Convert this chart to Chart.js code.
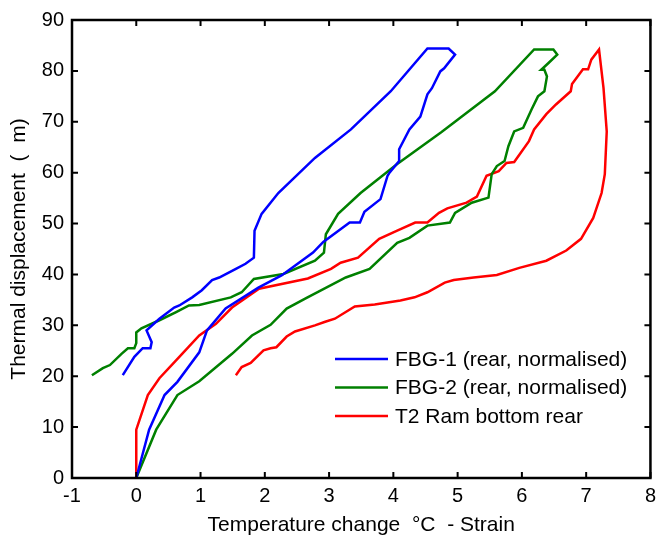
<!DOCTYPE html>
<html>
<head>
<meta charset="utf-8">
<script src="https://cdn.jsdelivr.net/npm/chart.js@4/dist/chart.umd.min.js"></script>
<style>
  body { margin: 0; background: #fff; }
  #wrap { width: 662px; height: 539px; position: relative; }
</style>
</head>
<body>
<div id="wrap"><canvas id="chart"></canvas></div>
<script>
let xTicks = [-1, 0, 1, 2, 3, 4, 5, 6, 7, 8];
let yTicks = [0, 10, 20, 30, 40, 50, 60, 70, 80, 90];

let fbg1Label = "FBG-1 (rear, normalised)";
let fbg1X = [0, 0.2, 0.44, 0.64, 0.98, 1.1, 1.39, 1.9, 2.26, 2.75, 2.91, 3.32, 3.48, 3.55, 3.8, 3.91, 3.94, 4.09, 4.09, 4.25, 4.42, 4.53, 4.6, 4.73, 4.79, 4.96, 4.86, 4.53, 3.96, 3.34, 2.78, 2.21, 1.95, 1.84, 1.83, 1.7, 1.55, 1.29, 1.18, 1.02, 0.87, 0.67, 0.59, 0.36, 0.16, 0.24, 0.22, 0.1, -0.03, -0.21];
let fbg1Y = [0, 9.5, 16.3, 18.9, 24.7, 29, 33.3, 37.4, 39.8, 44.3, 46.4, 50.2, 50.2, 52.3, 54.8, 59.4, 60, 62.3, 64.6, 68.5, 71, 75.4, 76.6, 79.9, 80.5, 83.2, 84.4, 84.4, 76, 68.5, 62.9, 56, 51.9, 48.6, 43.3, 42.1, 41.1, 39.4, 38.9, 36.9, 35.5, 33.9, 33.5, 31.3, 29, 26.7, 25.5, 25.5, 23.8, 20.2];

let fbg2Label = "FBG-2 (rear, normalised)";
let fbg2X = [0, 0.31, 0.64, 0.98, 1.49, 1.8, 2.09, 2.34, 2.65, 3.26, 3.63, 4.06, 4.25, 4.53, 4.88, 4.96, 5.22, 5.48, 5.53, 5.61, 5.73, 5.79, 5.88, 6.02, 6.15, 6.25, 6.35, 6.39, 6.35, 6.3, 6.41, 6.55, 6.49, 6.19, 5.58, 4.75, 4.06, 3.49, 3.14, 2.95, 2.92, 2.78, 2.29, 1.83, 1.64, 1.47, 0.98, 0.82, 0.62, 0.36, 0.08, 0, 0, -0.03, -0.13, -0.23, -0.41, -0.52, -0.69];
let fbg2Y = [0, 9.5, 16.3, 19, 24.4, 28, 30.1, 33.3, 35.4, 39.4, 41.1, 46.2, 47.2, 49.6, 50.2, 52.1, 54.1, 55.1, 59.7, 61.3, 62.3, 65.2, 68.1, 68.8, 72.4, 75, 76, 78.9, 80.2, 80.2, 81.5, 83.2, 84.2, 84.2, 76, 68, 61.7, 56, 51.9, 47.9, 44.3, 42.7, 40.1, 39.1, 36.5, 35.5, 34, 33.9, 32.6, 31, 29.4, 28.6, 26.5, 25.5, 25.5, 24.4, 22.2, 21.6, 20.2];

let t2Label = "T2 Ram bottom rear";
let t2X = [0, 0, 0.18, 0.36, 0.67, 0.98, 1.24, 1.49, 1.91, 2.67, 3.03, 3.18, 3.45, 3.78, 4.06, 4.34, 4.53, 4.71, 4.84, 5.14, 5.3, 5.45, 5.64, 5.76, 5.88, 6.11, 6.19, 6.38, 6.53, 6.76, 6.78, 6.95, 7.03, 7.08, 7.2, 7.27, 7.32, 7.29, 7.24, 7.11, 6.92, 6.69, 6.38, 5.96, 5.61, 5.25, 4.94, 4.8, 4.53, 4.33, 4.11, 3.71, 3.4, 3.09, 2.94, 2.78, 2.47, 2.34, 2.18, 2.09, 1.98, 1.78, 1.64, 1.55];
let t2Y = [0, 9.5, 16.3, 19.6, 23.8, 28, 30.3, 33.5, 37.2, 39.2, 41.1, 42.3, 43.3, 47, 48.6, 50.2, 50.2, 52.1, 53, 54.1, 55.3, 59.4, 60.3, 61.9, 62.1, 66.2, 68.5, 71.5, 73.4, 76, 77.4, 80.3, 80.3, 82.2, 84.2, 76.6, 68.1, 59.7, 56, 51.1, 47, 44.7, 42.7, 41.3, 39.9, 39.4, 38.9, 38.4, 36.5, 35.5, 34.9, 34.1, 33.7, 31.3, 30.7, 30, 28.8, 27.8, 25.7, 25.5, 25.1, 22.6, 21.8, 20.2];

function toPoints(xs, ys) {
    let pts = [];
    for (let i = 0; i < xs.length; i++) {
        pts.push({ x: xs[i], y: ys[i] });
    }
    return pts;
}

function makeSeries(label, xs, ys, color) {
    return {
        label: label,
        data: toPoints(xs, ys),
        showLine: true,
        borderColor: color,
        backgroundColor: color,
        borderWidth: 2.5,
        pointRadius: 0,
        tension: 0
    };
}

// box round the plot with inward ticks on all four sides, matlab style
let boxPlugin = {
    id: "box",
    afterDraw(chart) {
        let ctx = chart.ctx;
        let a = chart.chartArea;
        let xs = chart.scales.x;
        let ys = chart.scales.y;
        ctx.save();
        ctx.strokeStyle = "#000";
        ctx.lineWidth = 2;
        ctx.beginPath();
        xs.ticks.forEach(t => {
            let px = xs.getPixelForValue(t.value);
            ctx.moveTo(px, a.bottom);
            ctx.lineTo(px, a.bottom - 6);
            ctx.moveTo(px, a.top);
            ctx.lineTo(px, a.top + 6);
        });
        ys.ticks.forEach(t => {
            let py = ys.getPixelForValue(t.value);
            ctx.moveTo(a.left, py);
            ctx.lineTo(a.left + 6, py);
            ctx.moveTo(a.right, py);
            ctx.lineTo(a.right - 6, py);
        });
        ctx.stroke();
        ctx.lineWidth = 2.5;
        ctx.strokeRect(a.left, a.top, a.right - a.left, a.bottom - a.top);

        // legend, inside the lower right of the plot
        let lx = 335, ly = 359, step = 28.5;
        ctx.font = "21px 'Liberation Sans', Arial, sans-serif";
        ctx.textBaseline = "middle";
        ctx.textAlign = "left";
        chart.data.datasets.forEach((ds, i) => {
            let y = ly + i * step;
            ctx.strokeStyle = ds.borderColor;
            ctx.lineWidth = 2.5;
            ctx.beginPath();
            ctx.moveTo(lx, y);
            ctx.lineTo(lx + 53, y);
            ctx.stroke();
            ctx.fillStyle = "#000";
            ctx.fillText(ds.label, lx + 60, y + 1);
        });
        ctx.restore();
    }
};

let tickFont = { family: "'Liberation Sans', Arial, sans-serif", size: 20 };
let titleFont = { family: "'Liberation Sans', Arial, sans-serif", size: 21 };

new Chart(document.getElementById("chart"), {
    type: "scatter",
    data: {
        datasets: [
            makeSeries(fbg1Label, fbg1X, fbg1Y, "#0000ff"),
            makeSeries(fbg2Label, fbg2X, fbg2Y, "#008000"),
            makeSeries(t2Label, t2X, t2Y, "#ff0000")
        ]
    },
    options: {
        responsive: true,
        maintainAspectRatio: false,
        animation: false,
        layout: { padding: { top: 18, right: 5, left: 0, bottom: 0 } },
        plugins: {
            legend: { display: false },
            tooltip: { enabled: false }
        },
        scales: {
            x: {
                type: "linear",
                min: -1,
                max: 8,
                afterBuildTicks: s => { s.ticks = xTicks.map(v => ({ value: v })); },
                afterFit: s => { s.height = 61; },
                grid: { display: false, drawTicks: false },
                border: { display: false },
                ticks: { color: "#000", font: tickFont, padding: 6, maxRotation: 0 },
                title: {
                    display: true,
                    text: "Temperature change  \u00b0C  - Strain",
                    color: "#000",
                    font: titleFont,
                    padding: { top: 0, bottom: 1 }
                }
            },
            y: {
                type: "linear",
                min: 0,
                max: 90,
                afterBuildTicks: s => { s.ticks = yTicks.map(v => ({ value: v })); },
                afterFit: s => { s.width = 72; },
                grid: { display: false, drawTicks: false },
                border: { display: false },
                ticks: { color: "#000", font: tickFont, padding: 8 },
                title: {
                    display: true,
                    text: "Thermal displacement  (  m)",
                    color: "#000",
                    font: titleFont,
                    padding: { top: 7, bottom: 0 }
                }
            }
        }
    },
    plugins: [boxPlugin]
});
</script>
</body>
</html>
